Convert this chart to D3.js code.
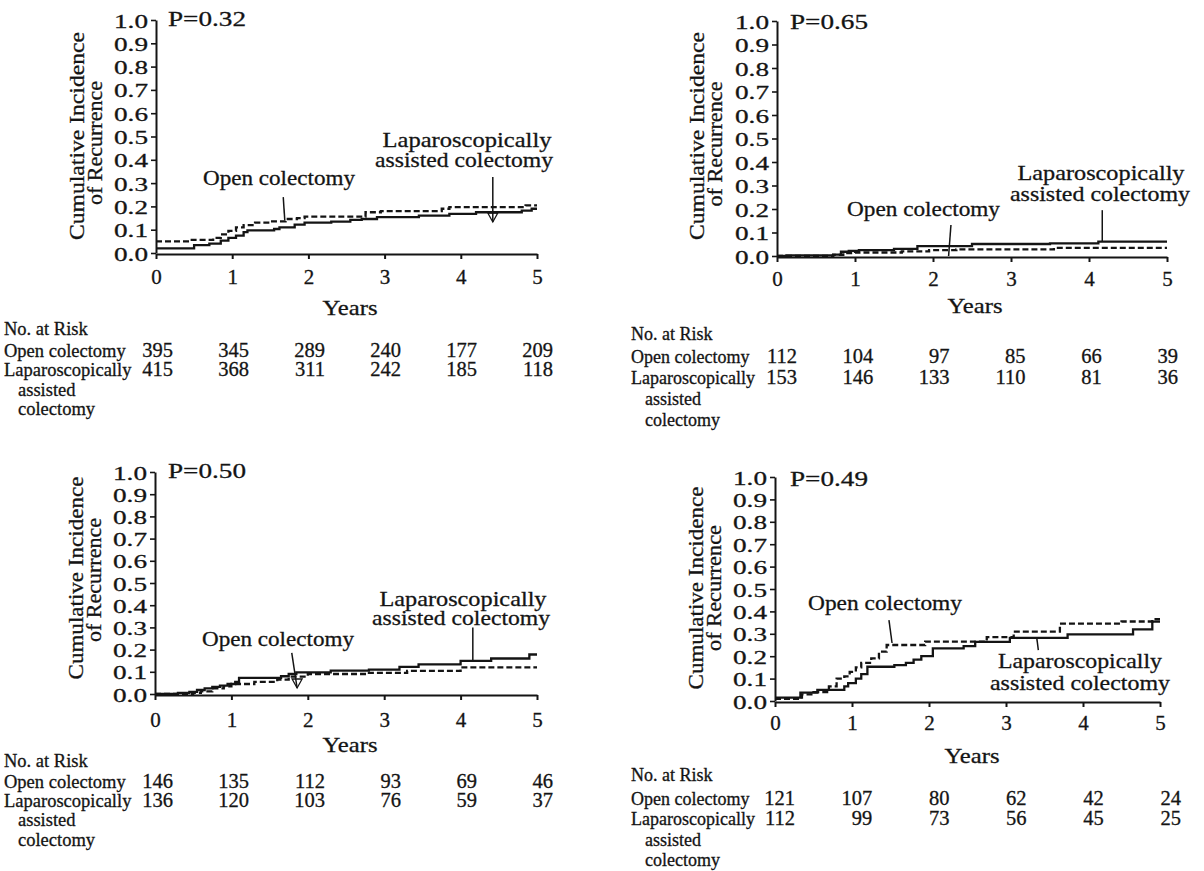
<!DOCTYPE html>
<html><head><meta charset="utf-8">
<script src="https://cdn.jsdelivr.net/npm/d3@7"></script>
<style>
body{margin:0;background:#fff;}
svg text{font-family:"Liberation Serif","DejaVu Serif","Times New Roman",serif;fill:#141414;stroke:#141414;stroke-width:0.3px;}
</style></head><body>
<svg id="c" width="1204" height="871"></svg>
<script>
// ---------- data ----------
const yearTicks = [0,1,2,3,4,5];
const incidenceTicks = [0,0.1,0.2,0.3,0.4,0.5,0.6,0.7,0.8,0.9,1.0];
const pLabels = ["P=0.32","P=0.65","P=0.50","P=0.49"];
const seriesNames = ["Open colectomy","Laparoscopically","assisted colectomy"];
const riskRowLabels = ["No. at Risk","Open colectomy","Laparoscopically","assisted","colectomy"];

// step curves: [years, cumulative incidence] (value from that time on)
const p1Open = [[0,0.05],[0.45,0.056],[0.75,0.065],[0.85,0.08],[0.95,0.095],[1.05,0.11],[1.15,0.12],[1.3,0.13],[1.5,0.136],[1.7,0.146],[1.85,0.15],[1.95,0.156],[2.75,0.175],[2.95,0.18],[3.75,0.19],[3.85,0.197],[4.85,0.204]];
const p1Lap  = [[0,0.02],[0.5,0.034],[0.7,0.04],[0.85,0.053],[0.95,0.065],[1.05,0.075],[1.15,0.09],[1.2,0.097],[1.55,0.103],[1.62,0.11],[1.82,0.122],[1.95,0.13],[2.3,0.135],[2.55,0.142],[2.7,0.146],[2.9,0.154],[3.45,0.16],[3.85,0.168],[4.2,0.175],[4.8,0.182],[4.93,0.19]];
const p2Open = [[0,0],[0.72,0.005],[0.85,0.012],[1.0,0.015],[1.6,0.02],[1.95,0.025],[2.3,0.028],[3.55,0.035]];
const p2Lap  = [[0,0],[0.12,0.003],[0.72,0.006],[0.82,0.018],[0.92,0.022],[1.05,0.025],[1.5,0.03],[1.8,0.042],[2.5,0.051],[3.5,0.054],[4.12,0.061]];
const p3Open = [[0,0],[0.5,0.005],[0.6,0.012],[0.75,0.025],[0.9,0.035],[1.0,0.045],[1.3,0.055],[1.6,0.065],[1.75,0.078],[2.0,0.09],[2.8,0.095],[3.3,0.104],[4.0,0.12]];
const p3Lap  = [[0,0],[0.3,0.005],[0.45,0.01],[0.55,0.018],[0.65,0.025],[0.75,0.032],[0.85,0.038],[0.95,0.045],[1.05,0.055],[1.1,0.073],[1.65,0.08],[1.75,0.09],[1.85,0.097],[2.3,0.105],[2.8,0.11],[3.2,0.122],[3.45,0.133],[4.0,0.149],[4.4,0.16],[4.9,0.178]];
const p4Open = [[0,0.01],[0.35,0.03],[0.5,0.04],[0.7,0.065],[0.8,0.1],[0.9,0.11],[0.97,0.13],[1.05,0.15],[1.12,0.17],[1.25,0.19],[1.35,0.22],[1.45,0.25],[1.95,0.265],[2.75,0.285],[3.1,0.31],[3.7,0.345],[4.5,0.355],[4.9,0.365]];
const p4Lap  = [[0,0.015],[0.33,0.037],[0.55,0.05],[0.9,0.065],[0.95,0.08],[1.05,0.1],[1.12,0.12],[1.2,0.153],[1.55,0.16],[1.7,0.17],[1.8,0.185],[1.9,0.2],[2.05,0.235],[2.45,0.245],[2.6,0.264],[3.05,0.282],[3.8,0.297],[4.65,0.32],[4.9,0.354]];

// numbers at risk
const p1RiskOpen = [395,345,289,240,177,209];
const p1RiskLap  = [415,368,311,242,185,118];
const p2RiskOpen = [112,104,97,85,66,39];
const p2RiskLap  = [153,146,133,110,81,36];
const p3RiskOpen = [146,135,112,93,69,46];
const p3RiskLap  = [136,120,103,76,59,37];
const p4RiskOpen = [121,107,80,62,42,24];
const p4RiskLap  = [112,99,73,56,45,25];

// leader lines in data coordinates [years, incidence]
const p1Leaders = {open:[[1.67,0.24],[1.69,0.14]], lap:[[4.42,0.326],[4.42,0.133]]};
const p2Leaders = {open:[[2.23,0.132],[2.2,0.0]], lap:[[4.17,0.195],[4.17,0.06]]};
const p3Leaders = {open:[[1.79,0.185],[1.86,0.027]], lap:[[4.16,0.30],[4.16,0.153]]};
const p4Leaders = {open:[[1.48,0.361],[1.52,0.259]], lap:[[3.40,0.281],[3.42,0.227]]};

// ---------- layout ----------
const panels = [
 {p:0, open:p1Open, lap:p1Lap, rOpen:p1RiskOpen, rLap:p1RiskLap, lead:p1Leaders, arrow:"lap",
  xr:[156,537], yr:[253,20], tickBase:284, pPos:[168,26],
  yt1:[84,136], yt2:[102,143], ytLen:208, yt2Len:124, xt:[350,315],
  ann:{open:[203,185,152], lap:[467,147,169], asst:[464,167,178]},
  tbl:{rows:[335,357,376,396,415], x:4, indent:18, nums:[173,553], fs:18.5}},
 {p:1, open:p2Open, lap:p2Lap, rOpen:p2RiskOpen, rLap:p2RiskLap, lead:p2Leaders, arrow:null,
  xr:[777,1167], yr:[256,21], tickBase:286, pPos:[790,29],
  yt1:[704,136], yt2:[722,144], ytLen:208, yt2Len:125, xt:[975,313],
  ann:{open:[847,216,153], lap:[1101,180,167], asst:[1100,201,180]},
  tbl:{rows:[340,363,384,405,426], x:631, indent:645, nums:[797,1178], fs:18}},
 {p:2, open:p3Open, lap:p3Lap, rOpen:p3RiskOpen, rLap:p3RiskLap, lead:p3Leaders, arrow:"open",
  xr:[155,537], yr:[694,472], tickBase:727, pPos:[168,478],
  yt1:[83,578], yt2:[101,580], ytLen:203, yt2Len:124, xt:[350,752],
  ann:{open:[202,646,152], lap:[463,606,167], asst:[461,625,178]},
  tbl:{rows:[767,788,807,826,846], x:4, indent:18, nums:[173,553], fs:18.5}},
 {p:3, open:p4Open, lap:p4Lap, rOpen:p4RiskOpen, rLap:p4RiskLap, lead:p4Leaders, arrow:null,
  xr:[775,1160], yr:[701,477], tickBase:730, pPos:[790,486],
  yt1:[703,588], yt2:[721,588], ytLen:203, yt2Len:126, xt:[972,763],
  ann:{open:[808,610,154], lap:[1080,668,164], asst:[1080,690,180]},
  tbl:{rows:[781,805,825,846,866], x:631, indent:645, nums:[795,1181], fs:18}}
];

const svg = d3.select("#c");
svg.append("rect").attr("width",1204).attr("height",871).attr("fill","#fff");
const ink = "#141414";

panels.forEach(P => {
  const g = svg.append("g");
  const x = d3.scaleLinear().domain([0,5]).range(P.xr);
  const y = d3.scaleLinear().domain([0,1]).range(P.yr);

  // y axis
  const ya = g.append("g").attr("transform",`translate(${x(0)},0)`)
    .call(d3.axisLeft(y).tickValues(incidenceTicks).tickFormat(d3.format(".1f")).tickSize(5).tickSizeOuter(0));
  ya.attr("font-family",null);
  ya.select(".domain").attr("stroke",ink).attr("stroke-width",2);
  ya.selectAll(".tick line").attr("stroke",ink).attr("stroke-width",1.6);
  ya.selectAll(".tick text").attr("x",-8).attr("dy","0.36em")
    .style("font-size","19.5px").attr("fill",ink)
    .attr("textLength",34).attr("lengthAdjust","spacingAndGlyphs");

  // x axis
  const xa = g.append("g").attr("transform",`translate(0,${y(0)+1})`)
    .call(d3.axisBottom(x).tickValues(yearTicks).tickFormat(d3.format("d")).tickSize(5).tickSizeOuter(0));
  xa.attr("font-family",null);
  xa.select(".domain").attr("stroke",ink).attr("stroke-width",2);
  xa.selectAll(".tick line").attr("stroke",ink).attr("stroke-width",2);
  xa.selectAll(".tick text").attr("y",P.tickBase - y(0) - 1).attr("dy",null)
    .style("font-size","21px").attr("fill",ink);

  // curves
  const line = d3.line().x(d=>x(d[0])).y(d=>y(d[1])).curve(d3.curveStepAfter);
  const ext = s => s.concat([[5, s[s.length-1][1]]]);
  g.append("path").datum(ext(P.lap)).attr("d",line).attr("fill","none")
    .attr("stroke",ink).attr("stroke-width",2.3);
  g.append("path").datum(ext(P.open)).attr("d",line).attr("fill","none")
    .attr("stroke",ink).attr("stroke-width",2.3).attr("stroke-dasharray","6,3");

  // leaders
  const ll = d3.line().x(d=>x(d[0])).y(d=>y(d[1]));
  ["open","lap"].forEach(k => {
    g.append("path").datum(P.lead[k]).attr("d",ll).attr("stroke",ink).attr("stroke-width",1.5).attr("fill","none");
    if (P.arrow === k) {
      const e = P.lead[k][1];
      const ex = x(e[0]), ey = y(e[1]);
      g.append("path").attr("d",`M${ex-5},${ey-9}L${ex},${ey}L${ex+5},${ey-9}Z`)
        .attr("fill","none").attr("stroke",ink).attr("stroke-width",1.3);
    }
  });

  // texts
  const T = (tx,ty,s,fs,anchor,len) => {
    const t = g.append("text").attr("x",tx).attr("y",ty).text(s)
      .style("font-size",fs+"px").attr("text-anchor",anchor||"start");
    if (len) t.attr("textLength",len).attr("lengthAdjust","spacingAndGlyphs");
    return t;
  };
  T(P.pPos[0],P.pPos[1],pLabels[P.p],22,"start",78);
  T(P.ann.open[0],P.ann.open[1],seriesNames[0],21.5,"start",P.ann.open[2]);
  T(P.ann.lap[0],P.ann.lap[1],seriesNames[1],21.5,"middle",P.ann.lap[2]);
  T(P.ann.asst[0],P.ann.asst[1],seriesNames[2],21.5,"middle",P.ann.asst[2]);
  T(P.xt[0],P.xt[1],"Years",22,"middle",55);

  g.append("text").attr("transform",`translate(${P.yt1[0]},${P.yt1[1]}) rotate(-90)`)
    .attr("text-anchor","middle").style("font-size","21px").text("Cumulative Incidence")
    .attr("textLength",P.ytLen).attr("lengthAdjust","spacingAndGlyphs");
  g.append("text").attr("transform",`translate(${P.yt2[0]},${P.yt2[1]}) rotate(-90)`)
    .attr("text-anchor","middle").style("font-size","21px").text("of Recurrence")
    .attr("textLength",P.yt2Len).attr("lengthAdjust","spacingAndGlyphs");

  // at-risk table
  const tb = P.tbl;
  const xc = d3.scaleLinear().domain([0,5]).range(tb.nums);
  T(tb.x, tb.rows[0], riskRowLabels[0], tb.fs);
  T(tb.x, tb.rows[1], riskRowLabels[1], tb.fs);
  T(tb.x, tb.rows[2], riskRowLabels[2], tb.fs);
  T(tb.indent, tb.rows[3], riskRowLabels[3], tb.fs);
  T(tb.indent, tb.rows[4], riskRowLabels[4], tb.fs);
  g.selectAll(null).data(P.rOpen).join("text")
    .attr("x",(d,i)=>xc(yearTicks[i])).attr("y",tb.rows[1]).attr("text-anchor","end")
    .style("font-size","20.5px").text(d=>d);
  g.selectAll(null).data(P.rLap).join("text")
    .attr("x",(d,i)=>xc(yearTicks[i])).attr("y",tb.rows[2]).attr("text-anchor","end")
    .style("font-size","20.5px").text(d=>d);
});
</script></body></html>
